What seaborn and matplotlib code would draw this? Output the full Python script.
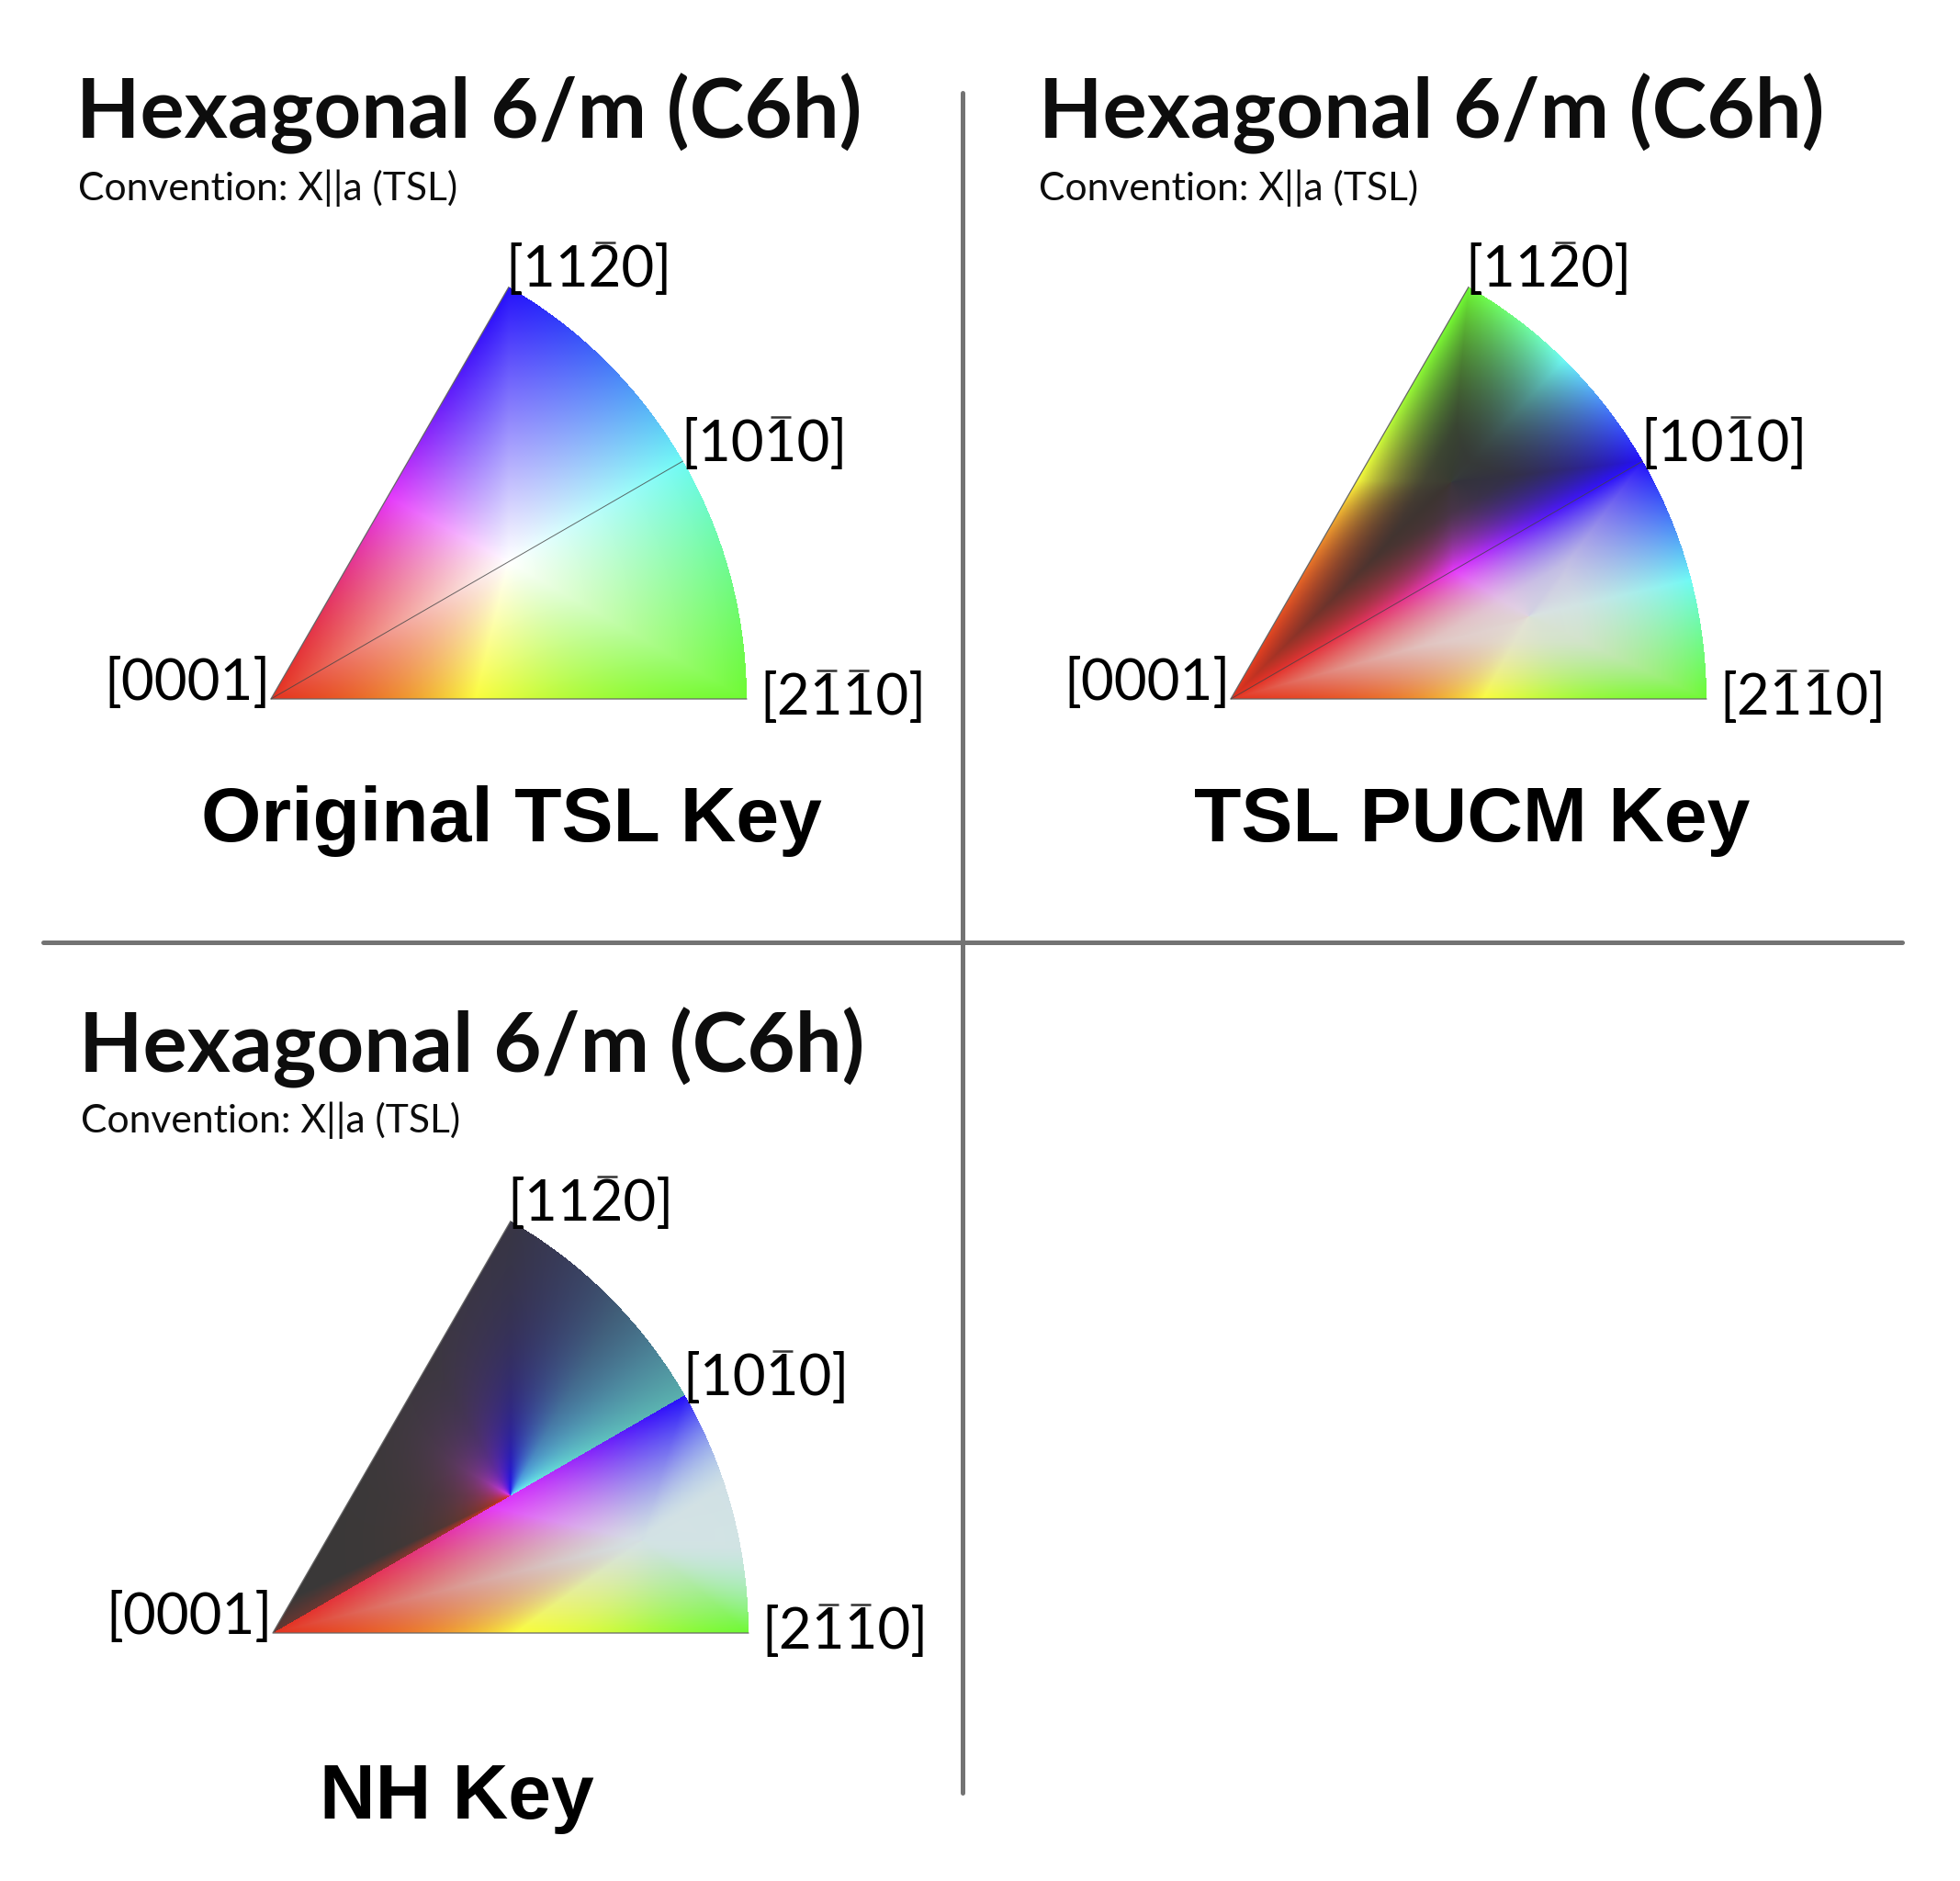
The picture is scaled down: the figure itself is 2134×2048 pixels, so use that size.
import numpy as np
import matplotlib
matplotlib.use("Agg")
import matplotlib.pyplot as plt
import seaborn as sns
import pandas as pd

# Key corners, in (r as fraction of wedge radius, angle in degrees)
RED = (228, 50, 30)
YELLOW = (250, 252, 60)
GREEN = (110, 250, 50)
CYAN = (110, 250, 245)
BLUE = (35, 15, 250)
MAGENTA = (228, 55, 250)
HUES = [RED, YELLOW, GREEN, CYAN, BLUE, MAGENTA]

TSL_CENTER = (0.577, 30.0)
TSL_ANCHORS = [(0.0, 0.0), (0.43, 0.0), (1.0, 0.0), (1.0, 30.0), (1.0, 60.0), (0.49, 60.0)]

PUCM_CENTER = (0.65, 15.5)
PUCM_ANCHORS = [(0.0, 0.0), (0.53, 0.0), (1.0, 0.0), (1.0, 14.5), (1.0, 30.0), (0.54, 30.0)]
PUCM_LIGHT = (224, 224, 224)
PUCM_DARK = (52, 52, 50)

NH_CENTER = (0.8, 14.0)
NH_ANCHORS = [(0.0, 0.0), (0.51, 0.0), (1.0, 0.0), (1.0, 13.0), (1.0, 30.0), (0.53, 30.0)]
NH_LIGHT = (212, 226, 228)
NH_DARK = (57, 56, 56)

# upper half of the NH key: fan around the wedge centre
FAN_ANGLES = [30, 45, 60, 90, 120, 150, 180, 205, 210]
FAN_COLORS = [CYAN, (95, 210, 250), (80, 170, 250), BLUE, (130, 30, 250), MAGENTA, (228, 50, 130), RED, RED]
FAN_FAR = [0.55, 0.42, 0.25, 0.02, 0.0, 0.0, 0.0, 0.0, 0.2]
FAN_WIDTH = [0.22, 0.2, 0.2, 0.18, 0.1, 0.08, 0.07, 0.08, 0.2]

TITLE = "Hexagonal 6/m (C6h)"
SUBTITLE = "Convention: X||a (TSL)"
KEY_NAMES = ["Original TSL Key", "TSL PUCM Key", "NH Key"]
CORNER_LABELS = ["[0001]", "[2110]", "[1010]", "[1120]"]
CORNER_BARS = [[], [2, 3], [3], [3]]

W, H = 2134, 2048
RADIUS = 518


def to_xy(pt):
    r, t = pt
    return r * np.cos(np.radians(t)), r * np.sin(np.radians(t))


def ray_to_boundary(cx, cy, ux, uy, top_deg, use_arc=True):
    # distance from centre along (ux, uy) until the edge of the sector
    best = np.full(ux.shape, 3.0)
    with np.errstate(divide="ignore", invalid="ignore"):
        t = -cy / uy
        best = np.where((t > 1e-9) & (t < best), t, best)
        nx, ny = -np.sin(np.radians(top_deg)), np.cos(np.radians(top_deg))
        t = -(cx * nx + cy * ny) / (ux * nx + uy * ny)
        best = np.where((t > 1e-9) & (t < best), t, best)
    if use_arc:
        b = cx * ux + cy * uy
        c = cx ** 2 + cy ** 2 - 1
        t = -b + np.sqrt(np.maximum(b ** 2 - c, 0))
        best = np.where((t > 1e-9) & (t < best), t, best)
    return best


def ramp(phi, angles, colors):
    order = np.argsort(angles)
    a = np.asarray(angles)[order]
    c = np.asarray(colors, dtype=float)[order]
    a = np.r_[a[-1] - 360, a, a[0] + 360]
    c = np.vstack([c[-1], c, c[0]])
    return np.stack([np.interp(phi, a, c[:, i]) for i in range(3)], axis=-1)


def sector_colors(x, y, center, anchors, top_deg, base, use_arc=True, gamma=1.0, band=0.0, arc_band=0.0):
    cx, cy = to_xy(center)
    dx, dy = x - cx, y - cy
    d = np.hypot(dx, dy) + 1e-9
    ux, uy = dx / d, dy / d
    phi = np.degrees(np.arctan2(uy, ux)) % 360
    angles = []
    for a in anchors:
        ax_, ay_ = to_xy(a)
        angles.append(np.degrees(np.arctan2(ay_ - cy, ax_ - cx)) % 360)
    hue = ramp(phi, angles, HUES)
    s = np.clip(d / ray_to_boundary(cx, cy, ux, uy, top_deg, use_arc), 0, 1) ** gamma
    if band > 0:
        # stays saturated in a strip along the two straight edges
        nx, ny = -np.sin(np.radians(top_deg)), np.cos(np.radians(top_deg))
        to_top = np.abs(x * nx + y * ny)
        s = np.maximum(s, np.exp(-np.minimum(np.abs(y), to_top) / band))
    if arc_band > 0:
        s = np.maximum(s, np.exp(-np.abs(1 - np.hypot(x, y)) / arc_band))
    return np.asarray(base, dtype=float) + s[..., None] * (hue - np.asarray(base, dtype=float))


def grid():
    n_x, n_y = RADIUS + 2, int(RADIUS * np.sin(np.radians(60))) + 2
    xs = (np.arange(n_x) + 0.5) / RADIUS
    ys = (n_y - 0.5 - np.arange(n_y)) / RADIUS
    x, y = np.meshgrid(xs, ys)
    return x, y


def key_tsl(x, y):
    return sector_colors(x, y, TSL_CENTER, TSL_ANCHORS, 60, (255, 255, 255), gamma=1.05)


def mirror(x, y, deg=30):
    t = np.arctan2(y, x)
    r = np.hypot(x, y)
    t2 = 2 * np.radians(deg) - t
    return r * np.cos(t2), r * np.sin(t2)


def key_pucm(x, y):
    lower = sector_colors(x, y, PUCM_CENTER, PUCM_ANCHORS, 30, PUCM_LIGHT, gamma=1.7, band=0.06, arc_band=0.12)
    mx, my = mirror(x, y)
    upper = sector_colors(mx, my, PUCM_CENTER, PUCM_ANCHORS, 30, PUCM_DARK, gamma=2.0, band=0.05, arc_band=0.06)
    is_up = np.degrees(np.arctan2(y, x)) > 30
    return np.where(is_up[..., None], upper, lower)


def key_nh(x, y):
    lower = sector_colors(x, y, NH_CENTER, NH_ANCHORS, 30, NH_LIGHT, use_arc=False, gamma=1.3, band=0.05)
    cx, cy = to_xy(TSL_CENTER)
    dx, dy = x - cx, y - cy
    d = np.hypot(dx, dy)
    phi = np.degrees(np.arctan2(dy, dx)) % 360
    phi_w = np.where(phi < 30, phi + 360, phi)
    phi_w = np.where(phi_w > 210, 210, phi_w)
    fan = np.stack([np.interp(phi_w, FAN_ANGLES, np.array(FAN_COLORS, dtype=float)[:, i]) for i in range(3)], -1)
    far = np.interp(phi_w, FAN_ANGLES, FAN_FAR)
    width = np.interp(phi_w, FAN_ANGLES, FAN_WIDTH)
    s = far + (1 - far) * np.exp(-d / width)
    upper = np.asarray(NH_DARK, dtype=float) + s[..., None] * (fan - np.asarray(NH_DARK, dtype=float))
    is_up = np.degrees(np.arctan2(y, x)) > 30
    return np.where(is_up[..., None], upper, lower)


def draw_wedge(fig, corner, key_func):
    x, y = grid()
    rgb = key_func(x, y) / 255.0
    ang = np.degrees(np.arctan2(y, x))
    inside = (np.hypot(x, y) <= 1.0) & (ang <= 60)
    rgba = np.dstack([np.clip(rgb, 0, 1), inside.astype(float)])
    n_y, n_x = x.shape
    left = corner[0] / W
    bottom = 1 - corner[1] / H
    ax = fig.add_axes([left, bottom, n_x / W, n_y / H])
    sns.heatmap(pd.DataFrame(rgb[..., 0]), ax=ax, cbar=False, xticklabels=False, yticklabels=False,
                vmin=0, vmax=1, rasterized=True)
    mesh = ax.collections[0]
    mesh.set_array(rgba)
    ax.axis("off")
    ax.patch.set_alpha(0)
    return ax


def text_width(canvas, s, size):
    probe = canvas.text(0, 0, s, fontsize=size)
    w = probe.get_window_extent(canvas.figure.canvas.get_renderer()).width
    probe.remove()
    return w


def draw_index(canvas, x, y, label, bars, size, ha="left"):
    # Miller-Bravais label with overbars on the negative digits
    canvas.text(x, y, label, fontsize=size, color="black", ha=ha, va="baseline")
    for i in bars:
        digit = text_width(canvas, label[i], size)
        mid = x + text_width(canvas, label[:i + 1], size) - digit / 2
        canvas.plot([mid - 11, mid + 11], [y - 48, y - 48], color="#333333", lw=1.8, solid_capstyle="butt")


def draw_panel(canvas, fig, corner, title_xy, sub_xy, name, name_xy, key_func, midline=True):
    draw_wedge(fig, corner, key_func)
    cx, cy = corner
    t = np.radians(np.array([60, 30]))
    # thin outline along the straight edges
    edge = pd.DataFrame({"x": [cx + RADIUS, cx, cx + RADIUS * np.cos(t[0])],
                         "y": [cy, cy, cy - RADIUS * np.sin(t[0])]})
    sns.lineplot(data=edge, x="x", y="y", sort=False, ax=canvas, color="#666666", lw=0.9, estimator=None)
    if midline:
        canvas.plot([cx, cx + RADIUS * np.cos(t[1])], [cy, cy - RADIUS * np.sin(t[1])], color="#444444", lw=0.7, alpha=0.8)
    canvas.text(title_xy[0], title_xy[1], TITLE, fontsize=65, fontweight="bold", family="Lato", color="#0d0d0d", va="baseline")
    canvas.text(sub_xy[0], sub_xy[1], SUBTITLE, fontsize=30.7, family="Lato", color="#0d0d0d", va="baseline")
    canvas.text(name_xy[0], name_xy[1], name, fontsize=60.5, fontweight="bold", family="Liberation Sans", color="black", ha="center", va="baseline")
    size = 44.5
    draw_index(canvas, cx, cy + 1, CORNER_LABELS[0], CORNER_BARS[0], size, ha="right")
    draw_index(canvas, cx + RADIUS + 14, cy + 17, CORNER_LABELS[1], CORNER_BARS[1], size)
    draw_index(canvas, cx + RADIUS * 0.866 - 2, cy - RADIUS * 0.5, CORNER_LABELS[2], CORNER_BARS[2], size)
    draw_index(canvas, cx + RADIUS * 0.5 - 4, cy - RADIUS * 0.866, CORNER_LABELS[3], CORNER_BARS[3], size)


def main():
    sns.set_theme(style="white")
    plt.rcParams["font.family"] = ["Lato", "DejaVu Sans"]

    fig = plt.figure(figsize=(W / 100, H / 100), dpi=100, facecolor="white")
    canvas = fig.add_axes([0, 0, 1, 1], zorder=5)
    canvas.set_xlim(0, W)
    canvas.set_ylim(H, 0)
    canvas.axis("off")
    canvas.patch.set_alpha(0)

    divider_v = pd.DataFrame({"x": [1048, 1048], "y": [101, 1952]})
    divider_h = pd.DataFrame({"x": [47, 2071], "y": [1026, 1026]})
    sns.lineplot(data=divider_v, x="x", y="y", ax=canvas, color="#737373", lw=3.6, estimator=None, sort=False)
    sns.lineplot(data=divider_h, x="x", y="y", ax=canvas, color="#737373", lw=3.6, estimator=None, sort=False)

    draw_panel(canvas, fig, (295, 761), (83, 150), (85, 218), KEY_NAMES[0], (557, 916), key_tsl)
    draw_panel(canvas, fig, (1340, 761), (1131, 150), (1131, 218), KEY_NAMES[1], (1603, 916), key_pucm)
    draw_panel(canvas, fig, (297, 1778), (86, 1167), (88, 1233), KEY_NAMES[2], (497, 1980), key_nh, midline=False)

    canvas.set_xlim(0, W)
    canvas.set_ylim(H, 0)
    fig.savefig("out.png", dpi=100, facecolor="white")


if __name__ == "__main__":
    main()
